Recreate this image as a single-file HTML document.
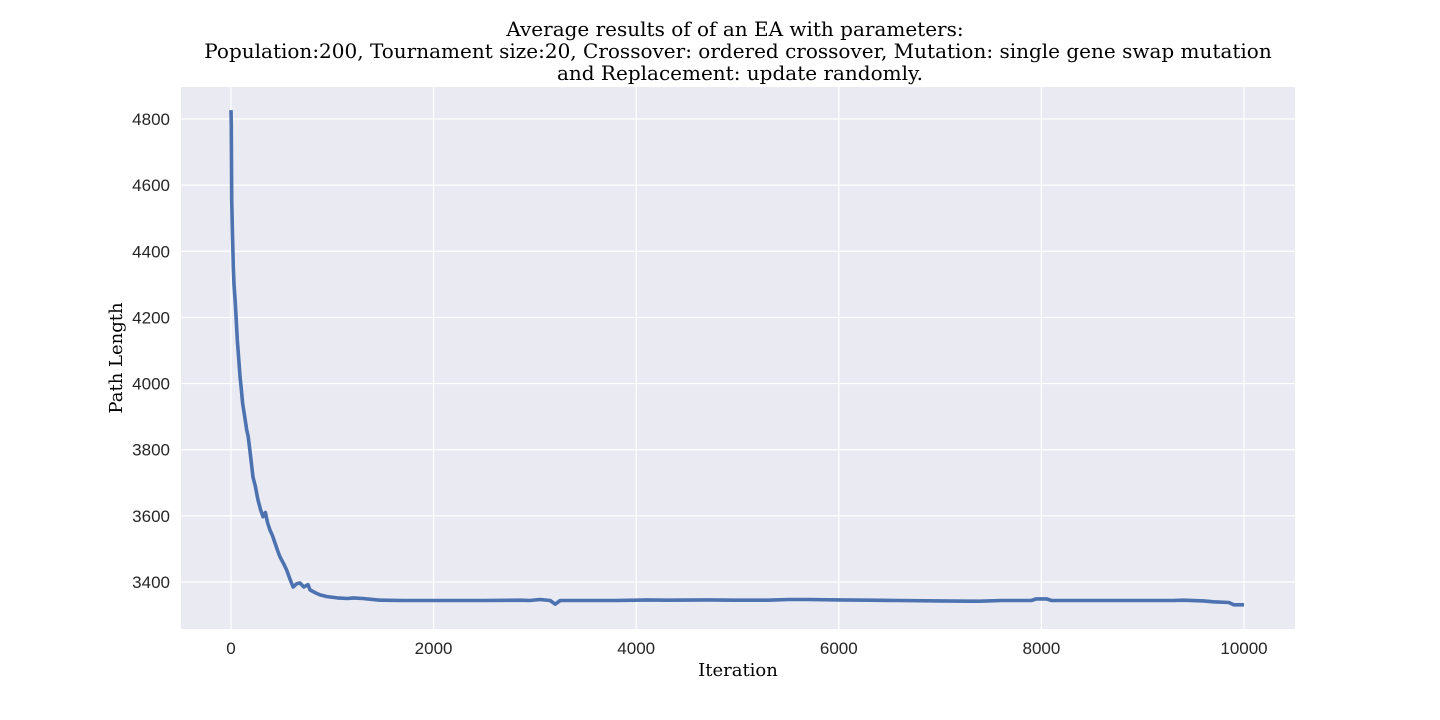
<!DOCTYPE html>
<html><head><meta charset="utf-8"><style>
html,body{margin:0;padding:0;background:#fff;}
svg{display:block;}
.tick{font-family:"Liberation Sans",Arial,sans-serif;font-size:17px;fill:#262626;}
.ttl{font-family:"DejaVu Serif","Liberation Serif",serif;font-size:20px;fill:#000;}
.lab{font-family:"DejaVu Serif","Liberation Serif",serif;font-size:18px;fill:#000;}
</style></head><body>
<svg id="chart" width="1440" height="720">
<text class="ttl" x="735" y="36" text-anchor="middle">Average results of of an EA with parameters:</text>
<text class="ttl" x="738" y="58" text-anchor="middle">Population:200, Tournament size:20, Crossover: ordered crossover, Mutation: single gene swap mutation</text>
<text class="ttl" x="740" y="80" text-anchor="middle">and Replacement: update randomly.</text>
<rect x="181" y="87" width="1114" height="542" fill="#eaeaf2"/>
<g id="grid"></g>
<g id="ticks"></g>
<path id="line" fill="none" stroke="#4c72b0" stroke-width="3.6" stroke-linejoin="round"/>
<text class="lab" x="738" y="676" text-anchor="middle">Iteration</text>
<text class="lab" x="122" y="358" text-anchor="middle" transform="rotate(-90 122 358)">Path Length</text>
</svg>
<script>
const iterations=[0,3,7,15,23,30,40,50,62,75,89,100,115,135,155,170,178,190,217,240,267,290,316,340,360,385,410,434,460,484,520,550,580,613,650,681,720,760,780,830,879,950,1050,1150,1207,1300,1470,1700,2000,2500,2850,2950,3050,3150,3200,3250,3500,3800,4000,4100,4300,4700,5000,5300,5500,5700,6000,6300,6600,7000,7300,7400,7600,7900,7950,8050,8100,8500,9000,9300,9400,9600,9700,9850,9900,10000];
const values=[4827,4780,4555,4450,4353,4300,4253,4200,4132,4080,4021,3990,3941,3900,3860,3840,3820,3790,3717,3690,3648,3620,3597,3610,3580,3557,3540,3518,3495,3476,3455,3436,3410,3385,3395,3397,3385,3392,3376,3368,3361,3356,3352,3350,3352,3350,3345,3344,3344,3344,3345,3344,3347,3344,3333,3344,3344,3344,3345,3346,3345,3346,3345,3345,3347,3347,3346,3345,3344,3343,3342,3342,3344,3344,3349,3349,3344,3344,3344,3344,3345,3343,3340,3338,3331,3331];
const xTicks=[0,2000,4000,6000,8000,10000];
const yTicks=[3400,3600,3800,4000,4200,4400,4600,4800];
const X=v=>231+(v/10000)*1013;
const Y=v=>582-(v-3400)*(463/1400);
const NS="http://www.w3.org/2000/svg";
const grid=document.getElementById('grid'),ticks=document.getElementById('ticks');
xTicks.forEach(t=>{
 const l=document.createElementNS(NS,'line');
 l.setAttribute('x1',X(t));l.setAttribute('x2',X(t));l.setAttribute('y1',87);l.setAttribute('y2',629);
 l.setAttribute('stroke','#fff');l.setAttribute('stroke-width','1.2');
 
 
 grid.appendChild(l);
 const tx=document.createElementNS(NS,'text');
 tx.setAttribute('x',X(t));tx.setAttribute('y',654);tx.setAttribute('text-anchor','middle');tx.setAttribute('class','tick');
 tx.textContent=t;
 
 
 ticks.appendChild(tx);
});
yTicks.forEach(t=>{
 const l=document.createElementNS(NS,'line');
 l.setAttribute('x1',181);l.setAttribute('x2',1295);l.setAttribute('y1',Y(t));l.setAttribute('y2',Y(t));
 l.setAttribute('stroke','#fff');l.setAttribute('stroke-width','1.2');
 
 
 grid.appendChild(l);
 const tx=document.createElementNS(NS,'text');
 tx.setAttribute('x',170);tx.setAttribute('y',Y(t)+6);tx.setAttribute('text-anchor','end');tx.setAttribute('class','tick');
 tx.textContent=t;
 
 
 ticks.appendChild(tx);
});
let d='';
iterations.forEach((it,i)=>{d+=(i?'L':'M')+X(it).toFixed(1)+','+Y(values[i]).toFixed(1);});
document.getElementById('line').setAttribute('d',d);
</script>
</body></html>
